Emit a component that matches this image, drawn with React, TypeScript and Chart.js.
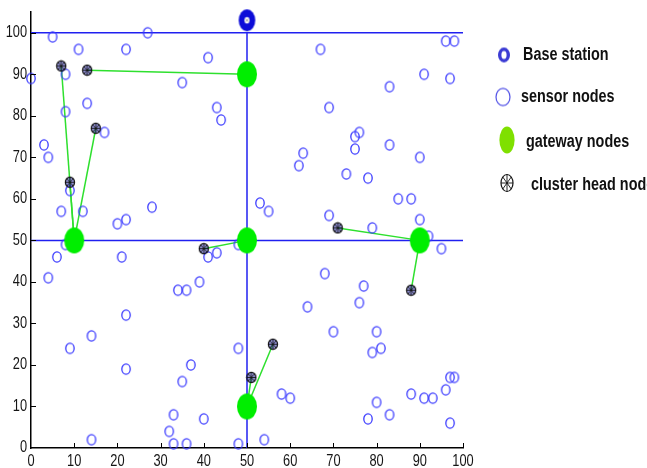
import React, { useEffect, useRef } from 'react';
import { Chart, registerables } from 'chart.js';

Chart.register(...registerables);

// ---------- data ----------
const baseStation: [number, number][] = [[50, 103]];

const gatewayNodes: [number, number][] = [
  [50, 90], [10, 50], [50, 50], [90, 50], [50, 10],
];

const clusterHeads: [number, number][] = [
  [7, 92], [13, 91], [9, 64], [15, 77], [40, 48], [71, 53], [88, 38], [56, 25], [51, 17],
];

// [cluster head index, gateway index]
const links: [number, number][] = [
  [1, 0], [0, 1], [2, 1], [3, 1], [4, 2], [5, 3], [6, 3], [7, 4], [8, 4],
];

const sensorNodes: [number, number][] = [
  // upper left
  [5, 99], [27, 100], [0, 89], [11, 96], [22, 96], [41, 94], [8, 90], [35, 88], [8, 81], [13, 83],
  [43, 82], [44, 79], [17, 76], [3, 73], [4, 70], [9, 62], [7, 57], [12, 57], [28, 58], [20, 54], [22, 55],
  // upper right
  [67, 96], [96, 98], [98, 98], [91, 90], [97, 89], [83, 87], [69, 82], [76, 76], [75, 75], [75, 72],
  [83, 73], [63, 71], [62, 68], [90, 70], [73, 66], [78, 65], [85, 60], [88, 60], [53, 59], [55, 57],
  [69, 56], [90, 55], [79, 53], [92, 51],
  // lower left
  [8, 49], [6, 46], [21, 46], [4, 41], [41, 46], [43, 47], [48, 49], [39, 40], [34, 38], [36, 38],
  [22, 32], [14, 27], [9, 24], [48, 24], [37, 20], [22, 19], [35, 16], [33, 8], [40, 7], [32, 4],
  [33, 1], [36, 1], [14, 2], [48, 1],
  // lower right
  [95, 48], [68, 42], [77, 39], [76, 35], [64, 34], [70, 28], [80, 28], [81, 24], [79, 23], [97, 17],
  [98, 17], [96, 14], [88, 13], [91, 12], [93, 12], [58, 13], [60, 12], [80, 11], [83, 8], [78, 7],
  [97, 6], [54, 2],
];

const partitionLines: [number, number][][] = [
  [[0, 100], [100, 100]],
  [[0, 50], [100, 50]],
  [[50, 0], [50, 100]],
];

const xRange = [0, 100];
const yRange = [0, 105];
const tickStep = 10;

const legendLabels = ['Base station', 'sensor nodes', 'gateway nodes', 'cluster head node'];

// ---------- helpers ----------
function makeMarker(w: number, h: number, draw: (ctx: CanvasRenderingContext2D, w: number, h: number) => void) {
  const c = document.createElement('canvas');
  c.width = w;
  c.height = h;
  const ctx = c.getContext('2d')!;
  draw(ctx, w, h);
  return c;
}

function drawSpokes(ctx: CanvasRenderingContext2D, cx: number, cy: number, rx: number, ry: number) {
  for (let i = 0; i < 8; i++) {
    const a = (i * Math.PI) / 4;
    ctx.beginPath();
    ctx.moveTo(cx, cy);
    ctx.lineTo(cx + Math.cos(a) * rx, cy + Math.sin(a) * ry);
    ctx.stroke();
  }
}

function condensedText(
  ctx: CanvasRenderingContext2D, text: string, x: number, y: number,
  align: CanvasTextAlign, font: string, sx: number,
) {
  ctx.save();
  ctx.translate(x, y);
  ctx.scale(sx, 1);
  ctx.font = font;
  ctx.textAlign = align;
  ctx.textBaseline = 'middle';
  ctx.fillText(text, 0, 0);
  ctx.restore();
}

const toPts = (arr: [number, number][]) => arr.map(([x, y]) => ({ x, y }));

const FONT = "'Liberation Sans', Arial, sans-serif";

export default function App() {
  const ref = useRef<HTMLCanvasElement | null>(null);

  useEffect(() => {
    if (!ref.current) return;

    const sensorImg = makeMarker(12, 14, (ctx, w, h) => {
      ctx.beginPath();
      ctx.ellipse(w / 2, h / 2, 4.2, 5.1, 0, 0, Math.PI * 2);
      ctx.strokeStyle = '#3a3aff';
      ctx.lineWidth = 1.3;
      ctx.stroke();
    });
    const gatewayImg = makeMarker(22, 28, (ctx, w, h) => {
      ctx.beginPath();
      ctx.ellipse(w / 2, h / 2, 10, 13, 0, 0, Math.PI * 2);
      ctx.fillStyle = '#00ee00';
      ctx.fill();
    });
    const baseImg = makeMarker(19, 24, (ctx, w, h) => {
      ctx.beginPath();
      ctx.ellipse(w / 2, h / 2, 8.3, 11, 0, 0, Math.PI * 2);
      ctx.fillStyle = '#0c0cd8';
      ctx.fill();
      ctx.beginPath();
      ctx.ellipse(w / 2, h / 2, 2.6, 3.2, 0, 0, Math.PI * 2);
      ctx.fillStyle = '#ffffff';
      ctx.fill();
      ctx.strokeStyle = '#777';
      ctx.lineWidth = 0.8;
      ctx.beginPath();
      ctx.moveTo(w / 2 - 1.6, h / 2 - 1.6);
      ctx.lineTo(w / 2 + 1.6, h / 2 + 1.6);
      ctx.moveTo(w / 2 + 1.6, h / 2 - 1.6);
      ctx.lineTo(w / 2 - 1.6, h / 2 + 1.6);
      ctx.stroke();
    });
    const headImg = makeMarker(12, 13, (ctx, w, h) => {
      ctx.beginPath();
      ctx.ellipse(w / 2, h / 2, 4.6, 5.2, 0, 0, Math.PI * 2);
      ctx.fillStyle = 'rgba(70,70,200,0.55)';
      ctx.fill();
      ctx.strokeStyle = '#111';
      ctx.lineWidth = 1.2;
      ctx.stroke();
      ctx.lineWidth = 0.9;
      drawSpokes(ctx, w / 2, h / 2, 4.6, 5.2);
    });

    // legend markers
    const legBase = makeMarker(16, 19, (ctx, w, h) => {
      ctx.beginPath();
      ctx.ellipse(w / 2, h / 2, 4.3, 5.8, 0, 0, Math.PI * 2);
      ctx.strokeStyle = '#3c3cd4';
      ctx.lineWidth = 3.4;
      ctx.stroke();
    });
    const legSensor = makeMarker(18, 21, (ctx, w, h) => {
      ctx.beginPath();
      ctx.ellipse(w / 2, h / 2, 7, 8.7, 0, 0, Math.PI * 2);
      ctx.strokeStyle = '#5050e6';
      ctx.lineWidth = 1.2;
      ctx.stroke();
    });
    const legGateway = makeMarker(18, 30, (ctx, w, h) => {
      ctx.beginPath();
      ctx.ellipse(w / 2, h / 2, 7.6, 13.5, 0, 0, Math.PI * 2);
      ctx.fillStyle = '#7fe000';
      ctx.fill();
    });
    const legHead = makeMarker(16, 22, (ctx, w, h) => {
      ctx.beginPath();
      ctx.ellipse(w / 2, h / 2, 6, 8.5, 0, 0, Math.PI * 2);
      ctx.strokeStyle = '#111';
      ctx.lineWidth = 1.2;
      ctx.stroke();
      ctx.lineWidth = 0.9;
      drawSpokes(ctx, w / 2, h / 2, 6, 8.5);
    });

    const legendItems = [
      { img: legBase, mx: 504, my: 55, tx: 523, ty: 55 },
      { img: legSensor, mx: 503, my: 97, tx: 521, ty: 97 },
      { img: legGateway, mx: 507, my: 140, tx: 526, ty: 142 },
      { img: legHead, mx: 507, my: 183, tx: 531, ty: 185 },
    ];

    const extrasPlugin = {
      id: 'extras',
      afterDraw(chart: any) {
        const ctx: CanvasRenderingContext2D = chart.ctx;
        const xs = chart.scales.x;
        const ys = chart.scales.y;
        const area = chart.chartArea;
        ctx.save();
        // inward tick marks
        ctx.strokeStyle = '#000';
        ctx.lineWidth = 1;
        xs.ticks.forEach((t: any) => {
          if (t.value === xRange[0]) return;
          const px = Math.round(xs.getPixelForValue(t.value)) + 0.5;
          ctx.beginPath();
          ctx.moveTo(px, area.bottom);
          ctx.lineTo(px, area.bottom - 5);
          ctx.stroke();
        });
        ys.ticks.forEach((t: any) => {
          if (t.value === yRange[0]) return;
          const py = Math.round(ys.getPixelForValue(t.value)) + 0.5;
          ctx.beginPath();
          ctx.moveTo(area.left, py);
          ctx.lineTo(area.left + 5, py);
          ctx.stroke();
        });
        // condensed tick labels (from the scales' own ticks)
        ctx.fillStyle = '#151515';
        const tickFont = `16px ${FONT}`;
        xs.ticks.forEach((t: any) => {
          condensedText(ctx, String(t.value), xs.getPixelForValue(t.value), area.bottom + 14, 'center', tickFont, 0.8);
        });
        ys.ticks.forEach((t: any) => {
          condensedText(ctx, String(t.value), area.left - 4, ys.getPixelForValue(t.value), 'right', tickFont, 0.8);
        });
        // legend
        legendItems.forEach((it, i) => {
          ctx.drawImage(it.img, it.mx - it.img.width / 2, it.my - it.img.height / 2);
          ctx.fillStyle = '#111';
          condensedText(ctx, legendLabels[i], it.tx, it.ty, 'left', `bold 18px ${FONT}`, 0.8);
        });
        ctx.restore();
      },
    };

    const datasets: any[] = [];
    datasets.push({
      label: legendLabels[0],
      data: toPts(baseStation),
      pointStyle: baseImg,
      pointRadius: 6,
      clip: false,
      order: 0,
    });
    datasets.push({
      label: legendLabels[2],
      data: toPts(gatewayNodes),
      pointStyle: gatewayImg,
      pointRadius: 6,
      clip: false,
      order: 1,
    });
    datasets.push({
      label: legendLabels[3],
      data: toPts(clusterHeads),
      pointStyle: headImg,
      pointRadius: 5,
      clip: false,
      order: 2,
    });
    datasets.push({
      label: legendLabels[1],
      data: toPts(sensorNodes),
      pointStyle: sensorImg,
      pointRadius: 5,
      clip: false,
      order: 3,
    });
    links.forEach(([c, g]) => {
      datasets.push({
        data: toPts([clusterHeads[c], gatewayNodes[g]]),
        showLine: true,
        borderColor: '#2ee02e',
        borderWidth: 1.5,
        pointRadius: 0,
        order: 4,
      });
    });
    partitionLines.forEach((seg) => {
      datasets.push({
        data: toPts(seg),
        showLine: true,
        borderColor: '#2020f0',
        borderWidth: 1.5,
        pointRadius: 0,
        order: 5,
      });
    });

    const chart = new Chart(ref.current, {
      type: 'scatter',
      data: { datasets },
      options: {
        animation: false,
        responsive: false,
        events: [],
        layout: { padding: { top: 12, right: 184, left: 0, bottom: 0 } },
        plugins: { legend: { display: false }, tooltip: { enabled: false } },
        scales: {
          x: {
            type: 'linear',
            min: xRange[0],
            max: xRange[1],
            grid: { display: false, drawTicks: false },
            border: { display: true, color: '#000', width: 1.5 },
            ticks: { stepSize: tickStep, display: false },
            afterFit: (s: any) => { s.height = 20; },
          },
          y: {
            type: 'linear',
            min: yRange[0],
            max: yRange[1],
            grid: { display: false, drawTicks: false },
            border: { display: true, color: '#000', width: 1.5 },
            ticks: { stepSize: tickStep, includeBounds: false, display: false },
            afterFit: (s: any) => { s.width = 31; },
          },
        },
      } as any,
      plugins: [extrasPlugin],
    });

    return () => chart.destroy();
  }, []);

  return (
    <div style={{ position: 'absolute', left: 0, top: 0, width: 647, height: 468, background: '#fff', overflow: 'hidden' }}>
      <canvas ref={ref} width={647} height={468} style={{ display: 'block' }} />
    </div>
  );
}
